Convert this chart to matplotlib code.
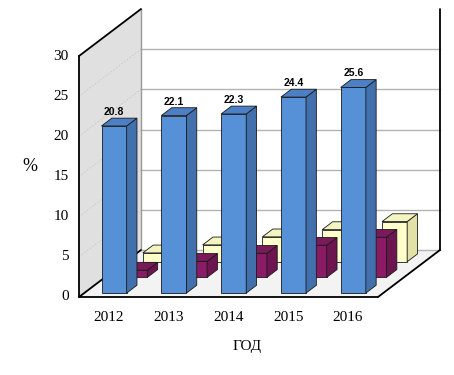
"""
3D-style grouped bar chart (oblique projection) of percentages by year.
"""

import matplotlib
matplotlib.use('Agg')
import matplotlib.pyplot as plt
from matplotlib.patches import Polygon
import numpy as np

years = ['2012', '2013', '2014', '2015', '2016']
series_blue = [20.8, 22.1, 22.3, 24.4, 25.6]
series_magenta = [0.9, 2.0, 3.0, 4.0, 5.0]
series_yellow = [1.1, 2.1, 3.1, 4.0, 5.0]
y_ticks = [0, 5, 10, 15, 20, 25, 30]

# face colours per series: front, side, top
colors = [
    ('#5690d6', '#4270ad', '#4c7fc4'),   # blue
    ('#8c1b66', '#6c1550', '#7a1a5a'),   # magenta
    ('#ffffcc', '#e2e2a6', '#f4f4c0'),   # yellow
]

# oblique projection: depth 1 -> shift in category units / value units
DX = 62 / 59.8
DV = 47 / 8.033
n_rows = 3
bar_w = 0.42


def proj(x, z, v):
    return (x + z * DX, v + z * DV)


def draw_bar(ax, xc, row, value, cols):
    z0 = (row + 0.25) / n_rows
    z1 = (row + 0.75) / n_rows
    x0, x1 = xc - bar_w / 2, xc + bar_w / 2
    front = [proj(x0, z0, 0), proj(x1, z0, 0), proj(x1, z0, value), proj(x0, z0, value)]
    side = [proj(x1, z0, 0), proj(x1, z1, 0), proj(x1, z1, value), proj(x1, z0, value)]
    top = [proj(x0, z0, value), proj(x1, z0, value), proj(x1, z1, value), proj(x0, z1, value)]
    for pts, c in ((front, cols[0]), (side, cols[1]), (top, cols[2])):
        ax.add_patch(Polygon(pts, closed=True, facecolor=c, edgecolor='#1a1a1a',
                             linewidth=0.6, zorder=3 + (n_rows - row)))
    # label anchor: above the front-face centre, at the back of the top face
    return proj(xc, z0, value)[0], proj(xc, z1, value)[1]


fig = plt.figure(figsize=(4.54, 3.75), dpi=100)
ax = fig.add_axes([0, 0, 1, 1])
ax.set_xlim(-79 / 59.8, (454 - 79) / 59.8)
ax.set_ylim(-78 / 8.033, 297 / 8.033)
ax.axis('off')

n = len(years)
vmax = y_ticks[-1]

# walls and floor
back = [proj(0, 1, 0), proj(n, 1, 0), proj(n, 1, vmax), proj(0, 1, vmax)]
ax.add_patch(Polygon(back, closed=True, facecolor='white', edgecolor='none', zorder=0))
left = [proj(0, 0, 0), proj(0, 1, 0), proj(0, 1, vmax), proj(0, 0, vmax)]
ax.add_patch(Polygon(left, closed=True, facecolor='#e0e0e0', edgecolor='none', zorder=0))
floor = [proj(0, 0, 0), proj(n, 0, 0), proj(n, 1, 0), proj(0, 1, 0)]
ax.add_patch(Polygon(floor, closed=True, facecolor='#f3f3f3', edgecolor='none', zorder=0))

for t in y_ticks[1:-1]:
    a, b = proj(0, 1, t), proj(n, 1, t)
    ax.plot([a[0], b[0]], [a[1], b[1]], color='#b3b3b3', lw=1.0, zorder=1)
    c = proj(0, 0, t)
    ax.plot([c[0], a[0]], [c[1], a[1]], color='#c8c8c8', lw=0.6, ls=(0, (2, 2)), zorder=1)

# outlines
a, b = proj(0, 1, 0), proj(0, 1, vmax)
ax.plot([a[0], b[0]], [a[1], b[1]], color='#999999', lw=1.0, zorder=1)
a, b = proj(0, 1, 0), proj(n, 1, 0)
ax.plot([a[0], b[0]], [a[1], b[1]], color='#b3b3b3', lw=1.0, zorder=1)
edges = [
    (proj(0, 0, 0), proj(0, 0, vmax)),
    (proj(0, 0, vmax), proj(0, 1, vmax)),
    (proj(0, 0, 0), proj(0, 1, 0)),
    (proj(0, 0, 0), proj(n, 0, 0)),
    (proj(n, 0, 0), proj(n, 1, 0)),
    (proj(n, 1, 0), proj(n, 1, vmax)),
]
for a, b in edges:
    ax.plot([a[0], b[0]], [a[1], b[1]], color='black', lw=1.3, zorder=2,
            solid_capstyle='round')

# bars, back row first
rows = [series_blue, series_magenta, series_yellow]
for row in (2, 1, 0):
    for i, v in enumerate(rows[row]):
        xt, yt = draw_bar(ax, i + 0.5, row, v, colors[row])
        if row == 0:
            ax.text(xt, yt + 0.15, f'{v:.1f}', ha='center', va='bottom',
                    fontsize=7.5, fontweight='bold', family='Liberation Sans',
                    zorder=10)

# axis labels
for t in y_ticks:
    ax.text(-0.17, t, str(t), ha='right', va='center', fontsize=11,
            family='Liberation Serif')
for i, y in enumerate(years):
    ax.text(i + 0.5, -2.5, y, ha='center', va='center', fontsize=11,
            family='Liberation Serif')
ax.text(2.81, -6.2, 'ГОД', ha='center', va='center', fontsize=11,
        family='Liberation Serif')
ax.text(-0.82, 16.2, '%', ha='center', va='center', fontsize=13,
        family='Liberation Serif')

fig.savefig('out.png', dpi=100)
